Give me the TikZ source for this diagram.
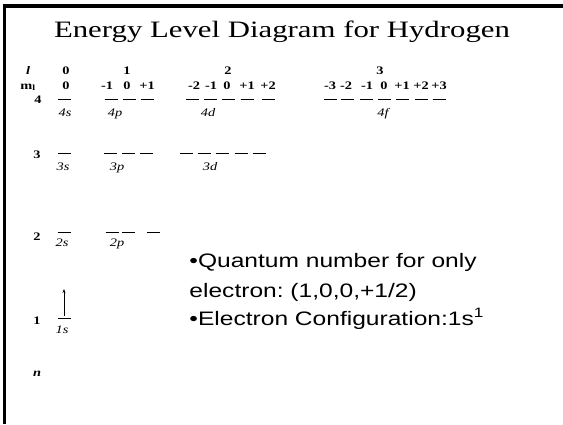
\documentclass[tikz,border=0pt]{standalone}
\usepackage{fontspec}
\setmainfont{Liberation Serif}
\newfontfamily\notefont{Liberation Sans}
\usetikzlibrary{arrows.meta}
\frenchspacing

\begin{document}
\begin{tikzpicture}[
        x=1pt, y=-1pt,
        qnum/.style = {font=\fontsize{11.5}{12}\selectfont\bfseries, xscale=1.25, anchor=base},
        orb/.style = {font=\fontsize{11.5}{12}\selectfont\itshape, xscale=1.25, anchor=base},
        level/.style = {line width=0.7pt},
        note/.style = {font=\notefont\fontsize{19.5}{22}\selectfont, xscale=1.26, anchor=base west},
        spin/.style = {line width=0.7pt, -{Stealth[length=4pt, width=3pt]}}
        ]

        \useasboundingbox (0,0) rectangle (563,424);
        \draw[line width=3.5pt] (4.5,424) -- (4.5,6) -- (563,6);

        \node[font=\fontsize{23.5}{26}\selectfont, xscale=1.31, anchor=base] (title) at (282,37) {Energy Level Diagram for Hydrogen};

        % quantum numbers l and m_l
        \node[qnum] (lhead) at (28,74) {\textit{l}};
        \node[qnum] (mhead) at (28,89) {m\textsubscript{l}};
        \foreach \x/\t [count=\i] in {66/0, 127/1, 228/2, 380/3}
            \node[qnum] (l-\i) at (\x,74) {\t};
        \foreach \x/\t [count=\i] in {66/0, 107/-1, 127/0, 147/+1, 194/-2, 211/-1, 227/0, 247/+1, 268/+2,
                330/-3, 346/-2, 367/-1, 384/0, 402/+1, 421/+2, 439/+3}
            \node[qnum] (m-\i) at (\x,89) {\t};

        % principal quantum number n
        \node[qnum] (n4) at (38,103) {4};
        \node[qnum] (n3) at (37,158) {3};
        \node[qnum] (n2) at (37,240) {2};
        \node[qnum] (n1) at (37,324) {1};
        \node[qnum] (nhead) at (37,376) {\textit{n}};

        % orbital levels
        \foreach \x in {64, 111, 129, 147, 192, 210, 228, 247, 268, 330, 347, 366, 384, 402, 421, 439}
            \draw[level] ({\x-6.5},99) -- ({\x+6.5},99);
        \foreach \x in {64, 110, 128, 146, 186, 204, 222, 241, 259}
            \draw[level] ({\x-6.5},153) -- ({\x+6.5},153);
        \foreach \x in {64, 112, 128, 153}
            \draw[level] ({\x-6.5},232) -- ({\x+6.5},232);
        \draw[level] (57.5,318) -- (70.5,318);

        \node[orb] (o4s) at (65,116) {4s};
        \node[orb] (o4p) at (115,116) {4p};
        \node[orb] (o4d) at (208,116) {4d};
        \node[orb] (o4f) at (383,116) {4f};
        \node[orb] (o3s) at (63,170) {3s};
        \node[orb] (o3p) at (117,170) {3p};
        \node[orb] (o3d) at (210,170) {3d};
        \node[orb] (o2s) at (62,246) {2s};
        \node[orb] (o2p) at (117,246) {2p};
        \node[orb] (o1s) at (62,333) {1s};

        % the one electron
        \coordinate (e1) at (64,316);
        \coordinate (e1top) at (64,289);
        \draw[spin] (e1) -- (e1top);

        \node[note] (q1) at (185,267) {\textbullet Quantum number for only};
        \node[note] (q2) at (185,297) {electron: (1,0,0,+1/2)};
        \node[note] (q3) at (185,325) {\textbullet Electron Configuration:1s\textsuperscript{1}};
\end{tikzpicture}
\end{document}
